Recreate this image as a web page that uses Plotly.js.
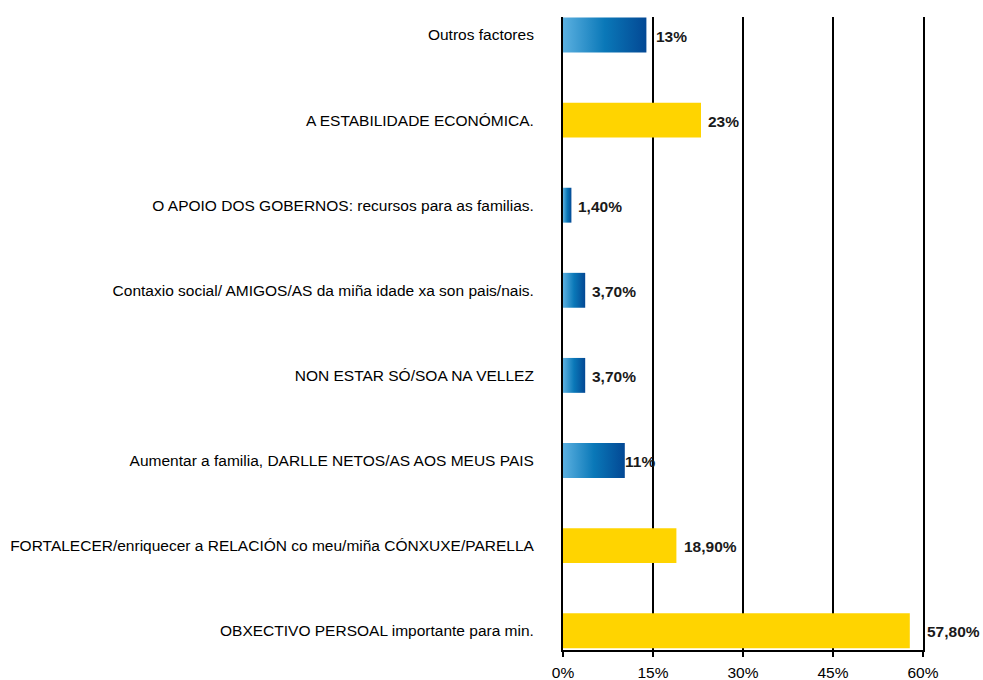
<!DOCTYPE html>
<html>
<head>
<meta charset="utf-8">
<script src="https://cdn.plot.ly/plotly-3.0.1.min.js"></script>
<style>html,body{margin:0;padding:0;background:#fff;}#chart{width:983px;height:680px;}</style>
</head>
<body>
<div id="chart"></div>
<svg width="0" height="0" style="position:absolute">
  <defs>
    <linearGradient id="blueGrad" x1="0" y1="0" x2="1" y2="0">
      <stop offset="0" stop-color="#5BB0E0"/>
      <stop offset="0.5" stop-color="#0A78B8"/>
      <stop offset="1" stop-color="#034894"/>
    </linearGradient>
  </defs>
</svg>
<script>
const categories = [
  "Outros factores",
  "A ESTABILIDADE ECONÓMICA.",
  "O APOIO DOS GOBERNOS: recursos para as familias.",
  "Contaxio social/ AMIGOS/AS da miña idade xa son pais/nais.",
  "NON ESTAR SÓ/SOA NA VELLEZ",
  "Aumentar a familia, DARLLE NETOS/AS AOS MEUS PAIS",
  "FORTALECER/enriquecer a RELACIÓN co meu/miña CÓNXUXE/PARELLA",
  "OBXECTIVO PERSOAL importante para min."
];
const values = [13.9, 23, 1.4, 3.7, 3.7, 10.3, 18.9, 57.8];
const valueLabels = ["13%", "23%", "1,40%", "3,70%", "3,70%", "11%", "18,90%", "57,80%"];
const colorGroup = ["blue", "yellow", "blue", "blue", "blue", "blue", "yellow", "yellow"];
const xTickVals = [0, 15, 30, 45, 60];
const xTickText = ["0%", "15%", "30%", "45%", "60%"];

// style-only settings
const labelShift = [10, 7, 7, 7, 7, 0, 8, 17];
const FONT = "Liberation Sans, Arial, sans-serif";
const FS = 15.5;
const YELLOW = "#FFD400";
const BLUE = "#0A78B8";

const trace = {
  type: "bar",
  orientation: "h",
  y: categories,
  x: values,
  marker: { color: colorGroup.map(g => g === "blue" ? BLUE : YELLOW), line: { width: 0 } },
  hoverinfo: "none"
};

const annotations = categories.map((c, i) => ({
  x: values[i], y: c, xref: "x", yref: "y",
  text: "<b>" + valueLabels[i] + "</b>",
  showarrow: false, xanchor: "left", yanchor: "middle",
  xshift: labelShift[i] - 2, yshift: -1,
  font: { family: FONT, size: FS, color: "#1a1a1a" }
}));

const layout = {
  width: 983, height: 680,
  margin: { l: 563, r: 60, t: 17, b: 30 },
  paper_bgcolor: "#fff", plot_bgcolor: "#fff",
  showlegend: false,
  bargap: 0.59,
  font: { family: FONT, size: FS, color: "#000" },
  xaxis: {
    range: [0, 60], fixedrange: true,
    tickvals: xTickVals, ticktext: xTickText,
    showgrid: true, gridcolor: "#000", gridwidth: 2,
    showline: true, linecolor: "#000", linewidth: 2,
    ticks: "outside", ticklen: 5, tickwidth: 2, tickcolor: "#000",
    ticklabelstandoff: 2,
    zeroline: false,
    tickfont: { family: FONT, size: FS, color: "#000" }
  },
  yaxis: {
    type: "category",
    range: [7.227, -0.2115], fixedrange: true,
    showline: true, linecolor: "#000", linewidth: 2, mirror: true,
    showgrid: false, zeroline: false, ticks: "",
    ticklabelstandoff: 24,
    tickfont: { family: FONT, size: FS, color: "#000" }
  },
  annotations: annotations
};

Plotly.newPlot("chart", [trace], layout, { staticPlot: true, displayModeBar: false }).then(() => {
  const paths = document.querySelectorAll("#chart .trace.bars .point path");
  paths.forEach((p, i) => {
    if (colorGroup[i] === "blue") p.style.fill = "url(#blueGrad)";
  });
});
</script>
</body>
</html>
